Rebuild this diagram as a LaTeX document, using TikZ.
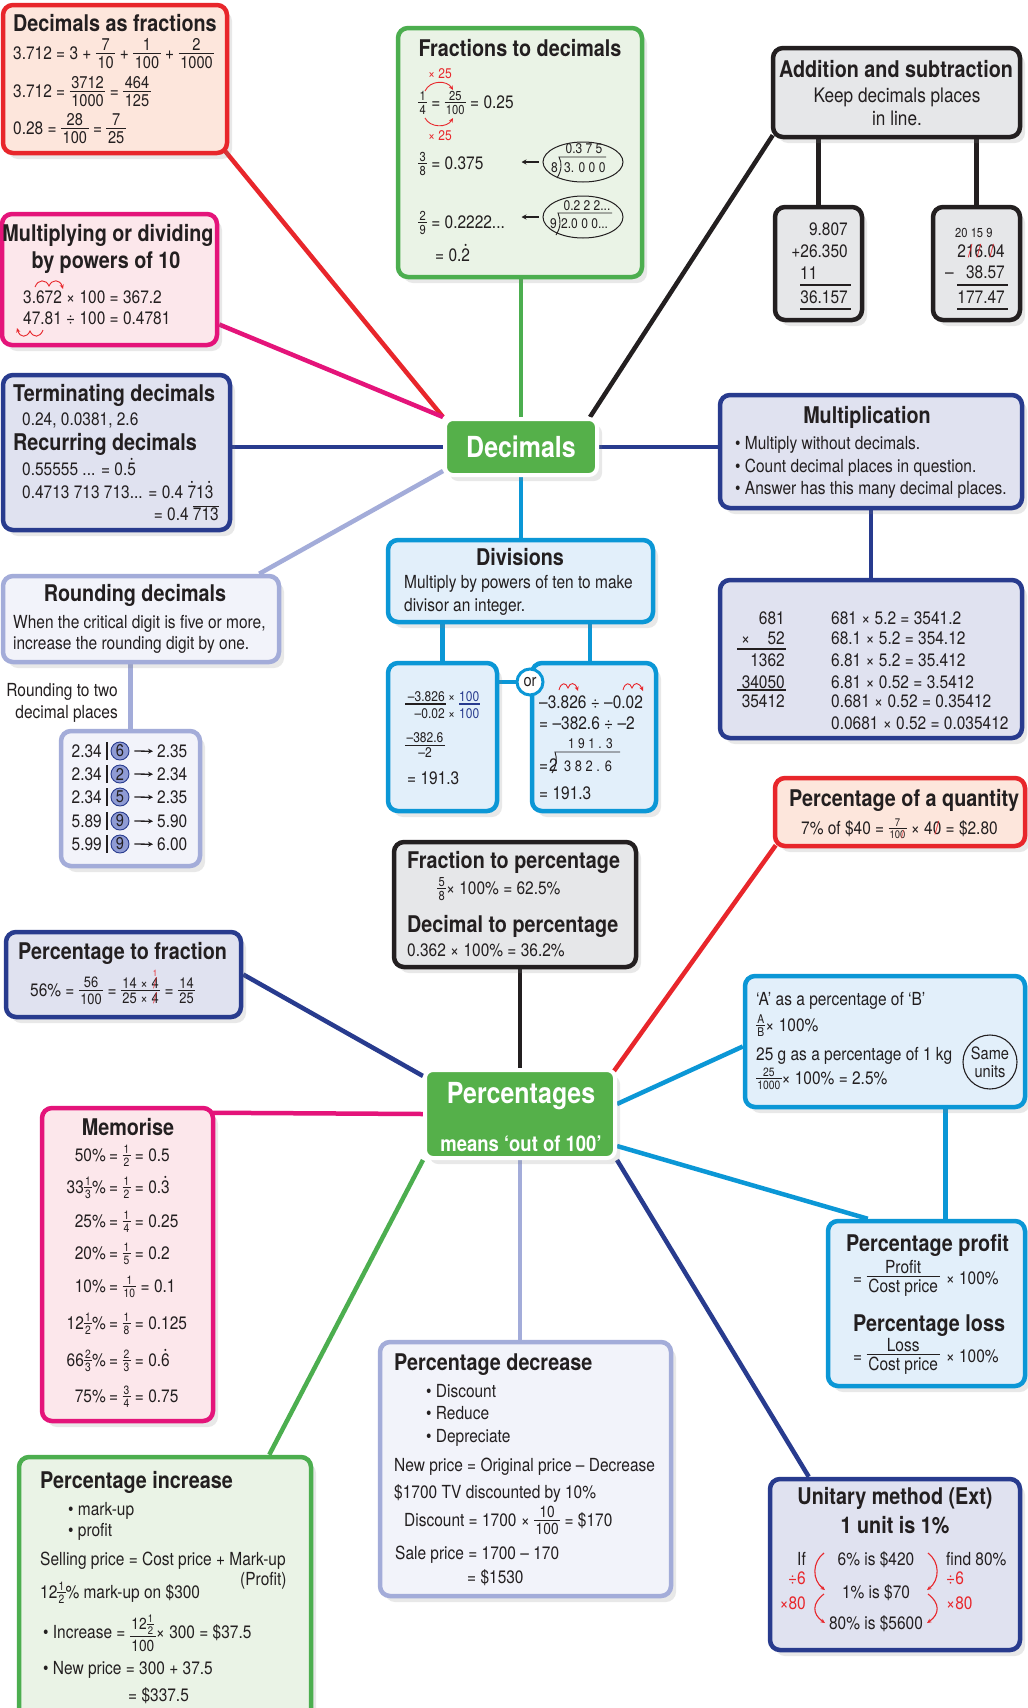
\RequirePackage{fix-cm}
\documentclass[tikz,border=0pt]{standalone}
\usepackage{fontspec}
\setmainfont{TeX Gyre Heros}[FakeStretch=0.86]
\usetikzlibrary{shapes.geometric,arrows.meta,calc,shadows}
\pgfdeclarelayer{bg}
\pgfsetlayers{bg,main}

\definecolor{cRed}{HTML}{E8262B}
\definecolor{fRed}{HTML}{FDE6DC}
\definecolor{cMag}{HTML}{E4147A}
\definecolor{fMag}{HTML}{FCE7EB}
\definecolor{cGrn}{HTML}{4CAE4F}
\definecolor{fGrn}{HTML}{EAF3E6}
\definecolor{gCen}{HTML}{55B04A}
\definecolor{cBlk}{HTML}{231F20}
\definecolor{fGry}{HTML}{E6E7E9}
\definecolor{cNav}{HTML}{283B8E}
\definecolor{fNav}{HTML}{E0E2F0}
\definecolor{cPer}{HTML}{A3ACD9}
\definecolor{fPer}{HTML}{F2F3FA}
\definecolor{cCya}{HTML}{0B97D6}
\definecolor{fCya}{HTML}{E2EFFA}
\definecolor{cCir}{HTML}{8F9BD4}
\definecolor{cTxt}{HTML}{231F20}

\newcommand\bdy{\fontsize{18}{22}\selectfont}
\newcommand\ttl{\fontsize{23}{27}\selectfont\bfseries}
\newcommand\sml{\fontsize{14}{16}\selectfont}
\newcommand\fr[3]{\raisebox{0.07em}{$\vcenter{\fontsize{#1}{#1}\selectfont\offinterlineskip
  \halign{\hfil\kern0.1em##\kern0.1em\hfil\cr
  \rule{0pt}{0.72em}#2\cr\noalign{\kern0.14em\hrule height0.9pt\kern0.14em}
  \rule{0pt}{0.72em}#3\cr}}$}}
\newcommand\rd[1]{\ooalign{#1\cr\hfil\raise0.72em\hbox{\fontsize{9}{9}\selectfont•}\hfil\cr}}
\newcommand\sla[1]{\ooalign{#1\cr\hfil\textcolor{cRed}{/}\hfil\cr}}
\newcommand\slo[1]{\ooalign{#1\cr\hfil\textcolor{cRed}{/}\hfil\cr\hfil\raise0.8em\hbox{\textcolor{cRed}{\fontsize{9}{9}\selectfont 1}}\hfil\cr}}

\tikzset{
  box/.style={rounded corners=10pt, line width=4.5pt, inner sep=0pt,
    drop shadow={opacity=0.18, shadow xshift=5pt, shadow yshift=-6pt}},
  con/.style={line width=4.5pt},
  tw/.style={inner sep=0pt, anchor=base west, font=\bdy, text=cTxt},
  te/.style={inner sep=0pt, anchor=base east, font=\bdy, text=cTxt},
  tc/.style={inner sep=0pt, anchor=base, font=\bdy, text=cTxt},
  hd/.style={inner sep=0pt, anchor=base west, font=\ttl, text=cTxt},
  hc/.style={inner sep=0pt, anchor=base, font=\ttl, text=cTxt},
  ann/.style={draw=cRed, line width=0.9pt, -{Stealth[length=4.5pt,width=4pt]}},
  hr/.style={line width=1.5pt, draw=cTxt},
  elli/.style={ellipse, draw=cTxt, line width=1pt, inner sep=0pt},
  tip/.style={line width=1.4pt, draw=cTxt, -{Stealth[length=5pt,width=5pt]}},
}
\newcommand\bx[7]{\node[box, draw=#6, fill=#7, minimum width={(#4-#2)*1pt}, minimum height={(#5-#3)*1pt}] (#1) at ({(#2+#4)/2},{(#3+#5)/2}) {};}

\begin{document}
\begin{tikzpicture}[x=1pt, y=-1pt]
\useasboundingbox (0,0) rectangle (1028,1708);

% ---------- boxes ----------
\bx{b1}{3}{5}{227}{153}{cRed}{fRed}
\bx{b2}{2}{214}{217}{345}{cMag}{fMag}
\bx{b3}{398}{28}{642}{277}{cGrn}{fGrn}
\bx{b4}{773}{48}{1020}{137}{cBlk}{fGry}
\bx{b4a}{775}{207}{862}{320}{cBlk}{fGry}
\bx{b4b}{933}{207}{1020}{320}{cBlk}{fGry}
\bx{b5}{3}{375}{230}{530}{cNav}{fNav}
\bx{b6}{3}{576}{279}{662}{cPer}{fPer}
\bx{b6b}{61}{731}{200}{866}{cPer}{fPer}
\bx{b8}{720}{395}{1022}{508}{cNav}{fNav}
\bx{b8b}{720}{580}{1022}{738}{cNav}{fNav}
\bx{b9}{388}{540}{653}{622}{cCya}{fCya}
\bx{b9a}{388}{663}{497}{811}{cCya}{fCya}
\bx{b9b}{532}{663}{656}{811}{cCya}{fCya}
\bx{b10}{394}{842}{636}{967}{cBlk}{fGry}
\bx{b11}{775}{778}{1025}{846}{cRed}{fRed}
\bx{b12}{6}{932}{241}{1017}{cNav}{fNav}
\bx{b13}{745}{976}{1025}{1107}{cCya}{fCya}
\bx{b14}{42}{1108}{213}{1421}{cMag}{fMag}
\bx{b15}{828}{1221}{1025}{1386}{cCya}{fCya}
\bx{b16}{19}{1457}{311}{1722}{cGrn}{fGrn}
\bx{b17}{380}{1342}{671}{1596}{cPer}{fPer}
\bx{b18}{770}{1479}{1020}{1650}{cNav}{fNav}

\node[box, draw=white, line width=4pt, rounded corners=8pt, fill=gCen, minimum width=152pt, minimum height=56pt,
  font=\fontsize{29}{32}\selectfont\bfseries, text=white] (dec) at (521,447) {Decimals};
\node[box, draw=white, line width=4pt, rounded corners=8pt, fill=gCen, minimum width=190pt, minimum height=88pt] (pct) at (520,1114) {};
\node[inner sep=0pt, anchor=base, font=\fontsize{29}{32}\selectfont\bfseries, text=white] (pctA) at (521,1103) {Percentages};
\node[inner sep=0pt, anchor=base, font=\fontsize{21.5}{24}\selectfont\bfseries, text=white] (pctB) at (521,1151) {means ‘out of 100’};

% ---------- Decimals as fractions ----------
\node[hd] (t1a) at (13,31) {Decimals as fractions};
\node[tw] (t1b) at (13,59.5) {3.712 = 3 + \fr{17}{7}{10} + \fr{17}{1}{100} + \fr{17}{2}{1000}};
\node[tw] (t1c) at (13,97.5) {3.712 = \fr{17}{3712}{1000} = \fr{17}{464}{125}};
\node[tw] (t1d) at (13,134.5) {0.28 = \fr{17}{28}{100} = \fr{17}{7}{25}};

% ---------- Multiplying or dividing ----------
\node[hc] (t2a) at (108,241) {Multiplying or dividing};
\node[hc] (t2b) at (106,268) {by powers of 10};
\node[tw] (t2c) at (23,303.5) {3.672 × 100 = 367.2};
\node[tw] (t2d) at (23,324.5) {47.81 ÷ 100 = 0.4781};
\draw[ann] (35,287) .. controls (38,279) and (46,279) .. (49,286) .. controls (52,279) and (60,279) .. (63,289);
\draw[ann] (43,330) .. controls (40,338) and (33,338) .. (30,331) .. controls (27,338) and (20,338) .. (17,328);

% ---------- Fractions to decimals ----------
\node[hc] (t3a) at (520,56) {Fractions to decimals};
\node[tc, font=\sml, text=cRed] (t3b) at (440,78) {× 25};
\node[tw] (t3c) at (418,108.5) {\fr{13}{1}{4} = \fr{13}{25}{100} = 0.25};
\node[tc, font=\sml, text=cRed] (t3d) at (440,140) {× 25};
\draw[ann] (425,91) .. controls (430,80) and (447,80) .. (453,90);
\draw[ann] (425,118) .. controls (430,128) and (447,128) .. (453,118);
\node[tw] (t3e) at (418,169.5) {\fr{13}{3}{8} = 0.375};
\node[elli, minimum width=80pt, minimum height=40pt] (e1) at (583,162) {};
\node[tc, font=\sml] (e1a) at (584,153) {0.3 7 5};
\node[tw, font=\sml] (e1b) at (551,172) {8};
\node[tw, font=\sml] (e1c) at (564,172) {3. 0 0 0};
\draw[line width=0.9pt, cTxt] (557,178) .. controls (562,170) and (562,163) .. (559,157) -- (606,157);
\draw[tip] ($(e1.west)+(-4,0)$) -- ++(-17,0);
\node[tw] (t3f) at (418,228.5) {\fr{13}{2}{9} = 0.2222...};
\node[elli, minimum width=80pt, minimum height=42pt] (e2) at (583,217) {};
\node[tc, font=\sml] (e2a) at (587,210) {0.2 2 2...};
\node[tw, font=\sml] (e2b) at (550,228) {9};
\node[tw, font=\sml] (e2c) at (561,228) {2.0 0 0...};
\draw[line width=0.9pt, cTxt] (556,235) .. controls (561,227) and (561,220) .. (558,213) -- (612,213);
\draw[tip] ($(e2.west)+(-4,0)$) -- ++(-17,0);
\node[tw] (t3g) at (435,261.5) {= 0.\rd{2}};

% ---------- Addition and subtraction ----------
\node[hc] (t4a) at (896,77) {Addition and subtraction};
\node[tc, font=\fontsize{20}{24}\selectfont] (t4b) at (897,102) {Keep decimals places};
\node[tc, font=\fontsize{20}{24}\selectfont] (t4c) at (897,125) {in line.};
\node[te] (t4d) at (848,235.5) {9.807};
\node[te] (t4e) at (848,257.5) {+26.350};
\node[tw] (t4f) at (800,279.5) {11};
\draw[hr] (800,285) -- (851,285);
\node[te] (t4g) at (848,303.5) {36.157};
\draw[hr] (800,309) -- (851,309);
\node[tw, font=\fontsize{13}{13}\selectfont] (t4h) at (955,237.5) {20 15 9};
\node[te] (t4i) at (1005,257.5) {2\sla{1}\sla{6}.\sla{0}4};
\node[tw] (t4j) at (945,278.5) {–};
\node[te] (t4k) at (1005,278.5) {38.57};
\draw[hr] (957,285) -- (1008,285);
\node[te] (t4l) at (1005,303.5) {177.47};
\draw[hr] (957,309) -- (1008,309);

% ---------- Terminating / Recurring ----------
\node[hd] (t5a) at (13,401) {Terminating decimals};
\node[tw] (t5b) at (22,425.5) {0.24, 0.0381, 2.6};
\node[hd] (t5c) at (13,450) {Recurring decimals};
\node[tw] (t5d) at (22,475.5) {0.55555 ... = 0.\rd{5}};
\node[tw] (t5e) at (22,498.5) {0.4713 713 713... = 0.4 \rd{7}1\rd{3}};
\node[te] (t5f) at (219,520.5) {= 0.4 $\overline{\hbox{713}}$};

% ---------- Rounding ----------
\node[hc] (t6a) at (135,601.3) {Rounding decimals};
\node[tw] (t6b) at (13,628.5) {When the critical digit is five or more,};
\node[tw] (t6c) at (13,649.5) {increase the rounding digit by one.};
\node[te] (t6d) at (118,696.5) {Rounding to two};
\node[te] (t6e) at (118,718.5) {decimal places};
\foreach \rA/\rB/\rC/\rD [count=\i] in {751/2.34/6/2.35, 774/2.34/2/2.34, 797/2.34/5/2.35, 821/5.89/9/5.90, 844/5.99/9/6.00} {
  \node[te] (ra\i) at (102,\rA+6.5) {\rB};
  \draw[line width=2pt, cTxt] (107,\rA-9) -- (107,\rA+9);
  \node[circle, draw=cNav, fill=cCir, line width=0.9pt, minimum size=18pt, inner sep=0pt,
    font=\fontsize{17}{17}\selectfont, text=cTxt] (rc\i) at (120,\rA) {\rC};
  \node[tw] (rb\i) at (157,\rA+6.5) {\rD};
  \draw[tip, line width=1.3pt] ([xshift=5pt]rc\i.east) -- ([xshift=-4pt]rb\i.west);
}

% ---------- Multiplication ----------
\node[hc] (t8a) at (867,423.3) {Multiplication};
\node[tw] (t8b) at (735,449.5) {• Multiply without decimals.};
\node[tw] (t8c) at (735,472.5) {• Count decimal places in question.};
\node[tw] (t8d) at (735,494.5) {• Answer has this many decimal places.};
\node[te] (m1) at (785,624.8) {681};
\node[tw] (m2) at (741,644.8) {×};
\node[te] (m3) at (785,644.8) {52};
\draw[hr] (737,649) -- (786,649);
\node[te] (m4) at (785,666.5) {1362};
\node[te] (m5) at (785,688) {34050};
\draw[hr] (737,690) -- (786,690);
\node[te] (m6) at (785,707.5) {35412};
\node[tw] (m7) at (831,624.8) {681 × 5.2 = 3541.2};
\node[tw] (m8) at (831,644.8) {68.1 × 5.2 = 354.12};
\node[tw] (m9) at (831,666.5) {6.81 × 5.2 = 35.412};
\node[tw] (m10) at (831,688.2) {6.81 × 0.52 = 3.5412};
\node[tw] (m11) at (831,707.2) {0.681 × 0.52 = 0.35412};
\node[tw] (m12) at (831,729.2) {0.0681 × 0.52 = 0.035412};

% ---------- Divisions ----------
\node[hc] (t9a) at (520,565.3) {Divisions};
\node[tw] (t9b) at (404,588.5) {Multiply by powers of ten to make};
\node[tw] (t9c) at (404,611.5) {divisor an integer.};
\node[te, font=\sml] (d1) at (445,701) {–3.826};
\node[tw, font=\sml] (d1b) at (448,701) {×\hspace{4pt}\textcolor{cNav}{100}};
\node[te, font=\sml] (d2) at (445,718) {–0.02};
\node[tw, font=\sml] (d2b) at (448,718) {×\hspace{4pt}\textcolor{cNav}{100}};
\draw[hr] (405,704) -- (446,704);
\draw[line width=1.5pt, cNav] (459,704) -- (480,704);
\node[anchor=west, inner sep=0pt, font=\bdy, text=cTxt] (d4) at (405,745) {\fr{14}{–382.6}{–2}};
\node[tw] (d5) at (407,784.5) {= 191.3};
\node[tw] (d6) at (539,708.5) {–3.826 ÷ –0.02};
\draw[ann] (559,690) .. controls (561,682) and (566,682) .. (568,688) .. controls (570,682) and (575,682) .. (578,691);
\draw[ann] (623,690) .. controls (625,682) and (630,682) .. (632,688) .. controls (634,682) and (639,682) .. (643,691);
\node[tw] (d7) at (539,729.5) {= –382.6 ÷ –2};
\node[tw, font=\sml] (d8) at (568,748) {1 9 1 . 3};
\draw[line width=0.9pt, cTxt] (552,773) .. controls (557,765) and (557,758) .. (555,752) -- (620,752);
\node[tw] (d9) at (539,771.5) {=\hspace{1pt}2};
\node[tw, font=\fontsize{15}{15}\selectfont] (d10) at (564,771) {3 8 2 . 6};
\node[tw] (d11) at (539,799.5) {= 191.3};
\node[circle, draw=cCya, fill=white, line width=3pt, minimum size=26pt, inner sep=0pt,
  font=\fontsize{17}{17}\selectfont, text=cTxt] (ornode) at (530,682) {or};

% ---------- Fraction / Decimal to percentage ----------
\node[hd] (t10a) at (407,868.3) {Fraction to percentage};
\node[tw] (t10b) at (437,894.5) {\fr{13}{5}{8}× 100\% = 62.5\%};
\node[hd] (t10c) at (407,932.3) {Decimal to percentage};
\node[tw] (t10d) at (407,956.5) {0.362 × 100\% = 36.2\%};

% ---------- Percentage of a quantity ----------
\node[hd] (t11a) at (789,806.3) {Percentage of a quantity};
\node[tw] (t11b) at (801,834.5) {7\% of \$40 = \fr{11}{7}{10\sla{0}} × 4\sla{0} = \$2.80};

% ---------- Percentage to fraction ----------
\node[hd] (t12a) at (18,959.3) {Percentage to fraction};
\node[tw] (t12b) at (30,996.5) {56\% = \fr{15}{56}{100} = \fr{15}{14 × \slo{4}}{25 × \sla{4}} = \fr{15}{14}{25}};

% ---------- A as a percentage of B ----------
\node[tw] (t13a) at (756,1005.5) {‘A’ as a percentage of ‘B’};
\node[tw] (t13b) at (756,1031.5) {\fr{12}{A}{B}× 100\%};
\node[tw] (t13c) at (756,1060.5) {25 g as a percentage of 1 kg};
\node[tw] (t13d) at (756,1084.5) {\fr{12}{25}{1000}× 100\% = 2.5\%};
\node[circle, draw=cTxt, line width=1.1pt, minimum size=54pt, inner sep=0pt, align=center,
  font=\fontsize{17}{18}\selectfont, text=cTxt] (su) at (990,1062) {Same\\units};

% ---------- Memorise ----------
\node[hc] (t14a) at (128,1135.3) {Memorise};
\foreach \mA/\mB/\mC/\mD/\mE [count=\i] in {
  1155/{50\%}/1/2/{0.5},
  1187/{33\fr{12}{1}{3}\%}/1/2/{0.\rd{3}},
  1221/{25\%}/1/4/{0.25},
  1253/{20\%}/1/5/{0.2},
  1286/{10\%}/1/10/{0.1},
  1323/{12\fr{12}{1}{2}\%}/1/8/{0.125},
  1360/{66\fr{12}{2}{3}\%}/2/3/{0.\rd{6}},
  1396/{75\%}/3/4/{0.75}} {
  \node[te] (mL\i) at (106,\mA+6.5) {\mB};
  \node[tw] (mR\i) at (109,\mA+6.5) {= \fr{12}{\mC}{\mD} = \mE};
}

% ---------- Percentage profit / loss ----------
\node[hd] (t15a) at (846,1251.3) {Percentage profit};
\node[tw] (t15b) at (853,1284) {= \fr{18}{Profit}{Cost price}\hspace{6pt}× 100\%};
\node[hd] (t15c) at (853,1331.3) {Percentage loss};
\node[tw] (t15d) at (853,1362) {= \fr{18}{Loss}{Cost price}\hspace{6pt}× 100\%};

% ---------- Percentage increase ----------
\node[hd] (t16a) at (40,1488.3) {Percentage increase};
\node[tw] (t16b) at (68,1515.5) {• mark-up};
\node[tw] (t16c) at (68,1536.5) {• profit};
\node[tw] (t16d) at (40,1565.5) {Selling price = Cost price + Mark-up};
\node[tw] (t16e) at (240,1585.5) {(Profit)};
\node[tw] (t16f) at (40,1598.5) {12\fr{12}{1}{2}\% mark-up on \$300};
\node[tw] (t16g) at (43,1638.5) {• Increase = \fr{16}{12\fr{11}{1}{2}}{100}× 300 = \$37.5};
\node[tw] (t16h) at (43,1674.5) {• New price = 300 + 37.5};
\node[tw] (t16i) at (128,1701.5) {= \$337.5};

% ---------- Percentage decrease ----------
\node[hd] (t17a) at (394,1370.3) {Percentage decrease};
\node[tw] (t17b) at (426,1397.5) {• Discount};
\node[tw] (t17c) at (426,1419.5) {• Reduce};
\node[tw] (t17d) at (426,1442.5) {• Depreciate};
\node[tw] (t17e) at (394,1471.5) {New price = Original price – Decrease};
\node[tw] (t17f) at (394,1498.5) {\$1700 TV discounted by 10\%};
\node[tw] (t17g) at (404,1526.5) {Discount = 1700 × \fr{16}{10}{100} = \$170};
\node[tw] (t17h) at (395,1559.5) {Sale price = 1700 – 170};
\node[tw] (t17i) at (467,1583.5) {= \$1530};

% ---------- Unitary method ----------
\node[hc] (t18a) at (895,1504.3) {Unitary method (Ext)};
\node[hc] (t18b) at (895,1533.3) {1 unit is 1\%};
\node[te] (t18c) at (806,1565.5) {If};
\node[tc] (t18d) at (876,1565.5) {6\% is \$420};
\node[tw] (t18e) at (946,1565.5) {find 80\%};
\node[te, text=cRed] (t18f) at (806,1584.5) {÷6};
\node[tw, text=cRed] (t18g) at (946,1584.5) {÷6};
\node[tc] (t18h) at (876,1598.5) {1\% is \$70};
\node[te, text=cRed] (t18i) at (806,1609.5) {×80};
\node[tw, text=cRed] (t18j) at (946,1609.5) {×80};
\node[tc] (t18k) at (876,1629.5) {80\% is \$5600};
\draw[ann, line width=1.1pt] (824,1553) .. controls (812,1562) and (812,1580) .. (825,1590);
\draw[ann, line width=1.1pt] (824,1594) .. controls (812,1603) and (812,1614) .. (825,1623);
\draw[ann, line width=1.1pt] (928,1553) .. controls (940,1562) and (940,1580) .. (927,1590);
\draw[ann, line width=1.1pt] (928,1594) .. controls (940,1603) and (940,1614) .. (927,1623);

% ---------- connectors ----------
\begin{pgfonlayer}{bg}
\fill[white] (0,0) rectangle (1028,1708);
\draw[con, cRed] ($(b1.south east)+(-4,-4)$) -- (dec.north west);
\draw[con, cMag] ($(b2.east)+(0,45)$) -- ($(dec.west)+(0,-30)$);
\draw[con, cNav] (dec.west) -- (dec.west -| b5.east);
\draw[con, cPer] ($(b6.north east)+(-22,0)$) -- ($(dec.south west)+(0,-6)$);
\draw[con, cGrn] (dec.north) -- (dec.north |- b3.south);
\draw[con, cBlk] ($(b4.south west)+(2,-4)$) -- ($(dec.north east)+(-9,0)$);
\draw[con, cNav] (dec.east) -- (dec.east -| b8.west);
\draw[con, cCya] (dec.south) -- (dec.south |- b9.north);
\draw[con, cBlk] (b4a.north) -- (b4a.north |- b4.south);
\draw[con, cBlk] (b4b.north) -- (b4b.north |- b4.south);
\draw[con, cNav] (b8b.north) -- (b8b.north |- b8.south);
\draw[con, cPer] (b6b.north) -- (b6b.north |- b6.south);
\draw[con, cCya] (b9a.north) -- (b9a.north |- b9.south);
\path ($(b9b.north)+(-4,0)$) coordinate (q1);
\draw[con, cCya] (q1) -- (q1 |- b9.south);
\draw[con, cCya] (ornode) -- (ornode -| b9a.east);
\draw[con, cBlk] (pct.north) -- (pct.north |- b10.south);
\draw[con, cRed] ($(b11.south west)+(3,-3)$) -- ($(pct.north east)+(-3,3)$);
\draw[con, cNav] (b12.east) -- ($(pct.north west)+(0,8)$);
\draw[con, cCya] ($(b13.west)+(0,5)$) -- ($(pct.east)+(0,-10)$);
\draw[con, cMag] ($(b14.north east)+(-4,7)$) -- (pct.west);
\draw[con, cCya] ($(pct.east)+(0,32)$) -- ($(b15.north west)+(42,0)$);
\path ($(b15.north)+(19,0)$) coordinate (q2);
\draw[con, cCya] (q2) -- (q2 |- b13.south);
\draw[con, cGrn] (pct.south west) -- ($(b16.north east)+(-44,0)$);
\draw[con, cPer] (pct.south) -- (pct.south |- b17.north);
\draw[con, cNav] (pct.south east) -- ($(b18.north west)+(41,0)$);
\end{pgfonlayer}
\end{tikzpicture}
\end{document}
